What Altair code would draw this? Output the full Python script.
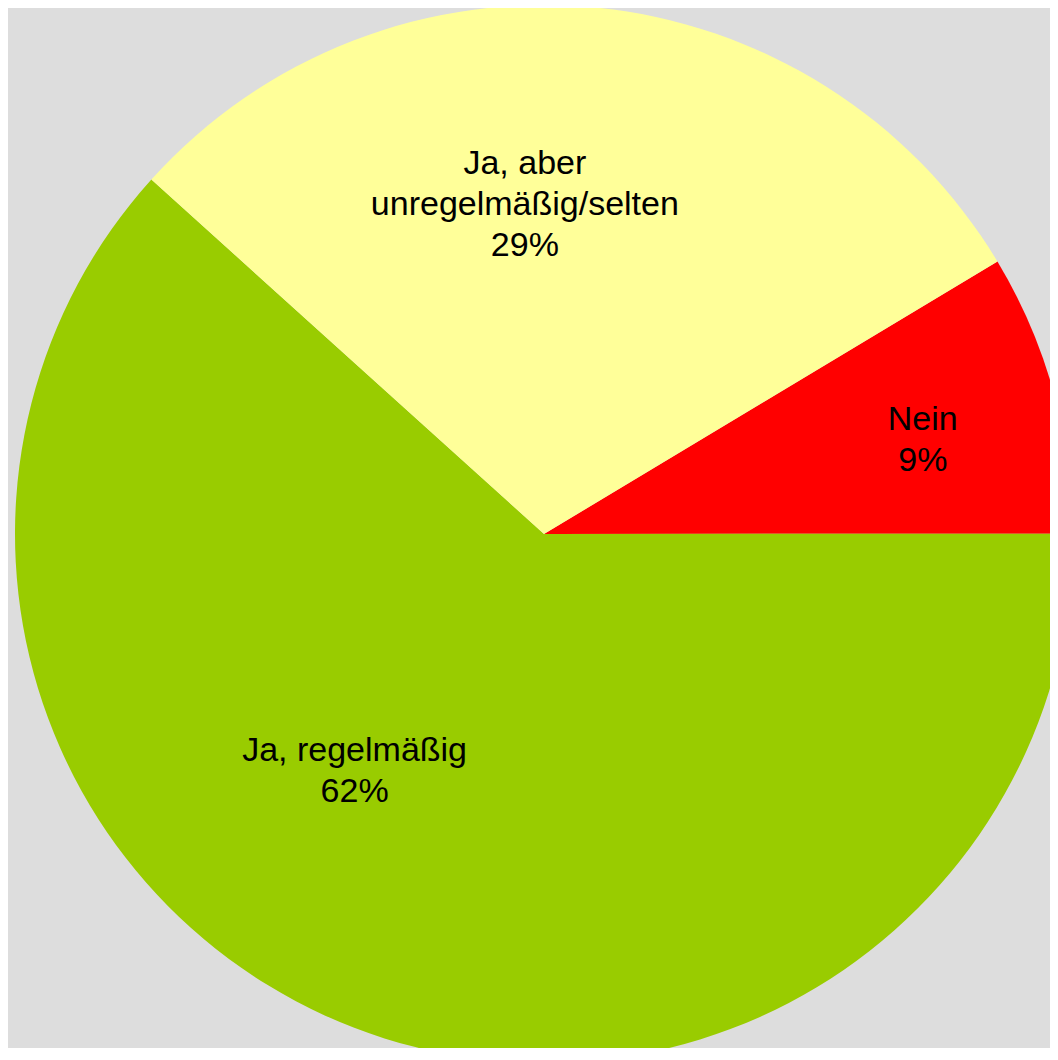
import math
import altair as alt
import pandas as pd

# Data
categories = ["Nein", "Ja, regelmäßig", "Ja, aber unregelmäßig/selten"]
shares = [8.6, 61.7, 29.7]          # share of the circle
labels = ["Nein\n9%", "Ja, regelmäßig\n62%", "Ja, aber\nunregelmäßig/selten\n29%"]
colors = ["#FF0000", "#99CC00", "#FFFF99"]
order_idx = [0, 1, 2]

df = pd.DataFrame({"cat": categories, "share": shares, "label": labels, "idx": order_idx})

start = math.radians(59.0)
theta_scale = alt.Scale(range=[start, start + 2 * math.pi])

CX, CY, R = 536, 526, 529

base = alt.Chart(df)

pie = base.mark_arc(radius=R, stroke=None).encode(
    theta=alt.Theta("share:Q", stack=True, scale=theta_scale),
    color=alt.Color("cat:N", scale=alt.Scale(domain=categories, range=colors), legend=None),
    order=alt.Order("idx:Q"),
    x=alt.value(CX),
    y=alt.value(CY),
)

# label placement per slice (radius from centre and a small offset)
label_style = {
    "Nein": dict(radius=390, dx=3, dy=-10),
    "Ja, regelmäßig": dict(radius=305, dx=-80, dy=-68),
    "Ja, aber unregelmäßig/selten": dict(radius=330, dx=-51, dy=-42),
}

layers = [pie]
for cat in categories:
    st = label_style[cat]
    t = base.transform_calculate(
        shown=f"datum.cat == {cat!r} ? datum.label : ''"
    ).mark_text(
        radius=st["radius"], dx=st["dx"], dy=st["dy"],
        font="Liberation Sans", fontSize=34, lineHeight=41,
        lineBreak="\n", align="center", baseline="middle", color="#000000",
    ).encode(
        theta=alt.Theta("share:Q", stack=True, scale=theta_scale),
        order=alt.Order("idx:Q"),
        text=alt.Text("shown:N"),
        x=alt.value(CX),
        y=alt.value(CY),
    )
    layers.append(t)

chart = alt.layer(*layers).properties(
    width=1042, height=1040, padding=0, autosize=alt.AutoSizeParams(type="none"),
    background="#dddddd",
).configure_view(stroke=None)

chart.save("out.html", embed_options={"renderer": "svg", "actions": False})
